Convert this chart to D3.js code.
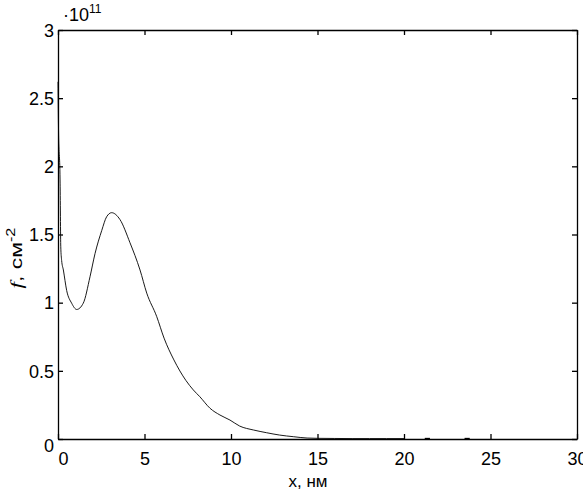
<!doctype html>
<html>
<head>
    <meta charset="UTF-8">
    <title>f(x)</title>
    <script src="https://cdn.jsdelivr.net/npm/d3@7"></script>
    <style>
        body { margin: 0; background: #fff; }
        svg text { font-family: "Liberation Sans", Arial, sans-serif; fill: #000; }
    </style>
</head>
<body>
<svg class="chart" width="583" height="490"></svg>
<script>
    // x in nm, f in units of 1e11 cm^-2
    var xs = [0, 0.03, 0.12, 0.16, 0.21, 0.31, 0.5, 0.79, 1.08, 1.46, 1.85, 2.14, 2.53, 2.81, 3.1, 3.58, 4.16, 4.74, 5.13, 5.7, 6.13, 6.7, 7.39, 7.82, 8.2, 8.79, 9.36, 9.94, 10.5, 11.3, 12.06, 12.8, 13.6, 14.4, 15, 16, 17, 18, 19, 20];
    var fs = [2.62, 2.27, 1.9, 1.41, 1.31, 1.24, 1.09, 0.996, 0.95, 0.996, 1.19, 1.36, 1.53, 1.63, 1.66, 1.61, 1.44, 1.24, 1.07, 0.90, 0.74, 0.58, 0.43, 0.36, 0.31, 0.225, 0.176, 0.139, 0.095, 0.066, 0.046, 0.029, 0.017, 0.007, 0.005, 0.004, 0.003, 0.003, 0.003, 0.003];
    // two tiny bits near zero further out
    var bits = [[21.2, 21.5], [23.5, 23.8]];
    var bitValue = 0.003;

    var xTicks = [0, 5, 10, 15, 20, 25, 30];
    var yTicks = [0, 0.5, 1, 1.5, 2, 2.5, 3];

    var mLeft = 58, mRight = 577, mTop = 30, mBottom = 439;
    var svg = d3.select(".chart");

    var x = d3.scaleLinear().domain([0, 30]).range([mLeft, mRight]);
    var y = d3.scaleLinear().domain([0, 3]).range([mBottom, mTop]);
    var fmt = function (d) { return String(d); };

    // axes box, ticks inward
    svg.append("g").attr("transform", "translate(0," + mBottom + ")")
        .call(d3.axisBottom(x).tickValues(xTicks).tickFormat(fmt).tickSizeInner(-5).tickSizeOuter(0).tickPadding(12))
        .call(function (g) {
            g.selectAll("text").attr("font-size", 18).attr("dy", "0.75em")
                .attr("dx", function (d) { return d == 0 ? 5 : 0; });
        });
    svg.append("g").attr("transform", "translate(0," + mTop + ")")
        .call(d3.axisTop(x).tickValues(xTicks).tickSizeInner(-5).tickSizeOuter(0).tickFormat(""));
    svg.append("g").attr("transform", "translate(" + mLeft + ",0)")
        .call(d3.axisLeft(y).tickValues(yTicks).tickFormat(fmt).tickSizeInner(-5).tickSizeOuter(0).tickPadding(4))
        .call(function (g) {
            g.selectAll("text").attr("font-size", 18)
                .attr("dy", function (d) { return d == 0 ? "0.72em" : "0.35em"; });
        });
    svg.append("g").attr("transform", "translate(" + mRight + ",0)")
        .call(d3.axisRight(y).tickValues(yTicks).tickSizeInner(-5).tickSizeOuter(0).tickFormat(""));

    svg.selectAll(".domain").attr("stroke", "#000").attr("stroke-width", 1.3);
    svg.selectAll(".tick line").attr("stroke", "#000").attr("stroke-width", 1.3);

    // curve
    var line = d3.line().curve(d3.curveMonotoneX)
        .x(function (d) { return x(d[0]); }).y(function (d) { return y(d[1]); });
    svg.append("path")
        .datum(xs.map(function (v, i) { return [v, fs[i]]; }))
        .attr("d", line)
        .attr("fill", "none").attr("stroke", "#000").attr("stroke-width", 0.9);
    svg.selectAll(".bit").data(bits).enter().append("path")
        .attr("class", "bit")
        .attr("d", function (b) { return line([[b[0], bitValue], [b[1], bitValue]]); })
        .attr("fill", "none").attr("stroke", "#000").attr("stroke-width", 1.5);

    // exponent
    var ex = svg.append("text").attr("x", 63).attr("y", 21).attr("font-size", 18);
    ex.append("tspan").text("\u00b710");
    ex.append("tspan").attr("font-size", 12).attr("dy", -8).text("11");

    // axis labels
    svg.append("text").attr("x", 308).attr("y", 487).attr("text-anchor", "middle")
        .attr("font-size", 17).text("x, нм");

    var yl = svg.append("text").attr("transform", "translate(22,258) rotate(-90) scale(1.35,1)")
        .attr("text-anchor", "middle").attr("font-size", 17);
    yl.append("tspan").attr("font-family", "'Liberation Serif', serif").attr("font-style", "italic").text("f");
    yl.append("tspan").text(", см");
    yl.append("tspan").attr("font-size", 12).attr("dy", -7).text("-2");
</script>
</body>
</html>
